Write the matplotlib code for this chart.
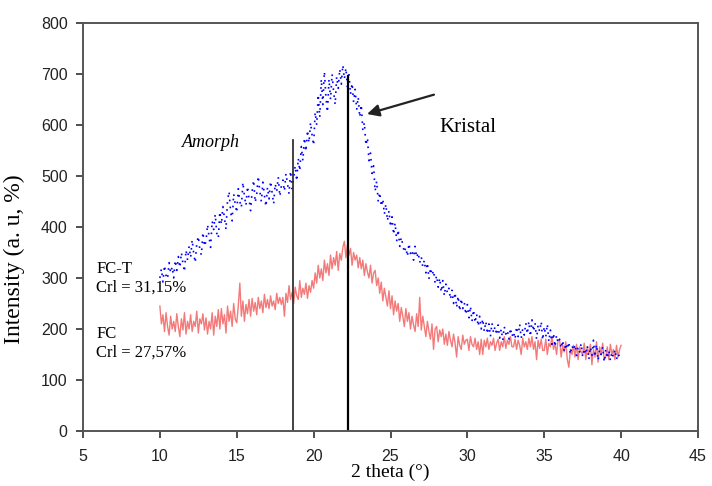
import numpy as np
import matplotlib
matplotlib.use("Agg")
import matplotlib.pyplot as plt

# 2 theta range and intensities (step 0.1)
theta_start, theta_end = 10.0, 40.0

fct = [300, 318, 292, 325, 305, 298, 330, 310, 322, 300,
       335, 315, 342, 320, 350, 328, 312, 355, 335, 362,
       340, 375, 348, 330, 368, 382, 355, 345, 390, 362,
       372, 405, 380, 360, 412, 395, 425, 388, 378, 430,
       405, 440, 418, 395, 452, 470, 430, 412, 465, 445,
       428, 475, 450, 438, 488, 460, 442, 480, 455, 432,
       470, 492, 448, 465, 500, 470, 450, 488, 462, 440,
       478, 455, 490, 468, 445, 485, 470, 498, 460, 480,
       492, 470, 505, 485, 465, 510, 475, 495, 520, 490,
       535, 510, 558, 530, 575, 548, 590, 565, 605, 580,
       560, 625, 600, 660, 615, 690, 640, 705, 655, 625,
       690, 650, 700, 665, 640, 695, 672, 710, 680, 718,
       690, 712, 675, 700, 660, 682, 645, 670, 630, 655,
       615, 640, 590, 605, 560, 575, 530, 545, 505, 520,
       470, 490, 450, 468, 440, 455, 425, 445, 412, 432,
       400, 420, 385, 408, 372, 395, 362, 380, 365, 350,
       360, 342, 368, 348, 355, 335, 362, 340, 350, 330,
       342, 322, 335, 310, 330, 298, 320, 305, 315, 290,
       305, 282, 300, 272, 295, 265, 288, 270, 280, 258,
       276, 250, 272, 242, 265, 235, 260, 240, 252, 228,
       248, 222, 245, 215, 238, 212, 230, 205, 225, 200,
       220, 195, 215, 190, 210, 185, 212, 192, 205, 188,
       208, 182, 200, 178, 205, 190, 198, 180, 202, 185,
       195, 180, 205, 185, 210, 182, 200, 188, 212, 190,
       215, 185, 218, 195, 212, 180, 208, 195, 215, 178,
       205, 185, 210, 175, 198, 170, 192, 165, 188, 172,
       180, 162, 178, 155, 172, 160, 175, 150, 168, 158,
       170, 148, 165, 155, 172, 145, 162, 150, 168, 140,
       165, 148, 178, 145, 170, 138, 160, 150, 165, 135,
       160, 142, 158, 138, 155, 145, 160, 140, 152, 145,
       150]

fc = [245, 210, 228, 195, 232, 205, 188, 225, 200, 215,
      195, 230, 205, 185, 220, 198, 232, 190, 215, 200,
      228, 195, 215, 205, 235, 192, 220, 210, 230, 198,
      222, 190, 215, 200, 232, 188, 225, 205, 238, 200,
      240, 210, 228, 192, 245, 215, 235, 205, 250, 220,
      212, 245, 290, 225, 255, 215, 248, 230, 258, 225,
      260, 235, 252, 228, 262, 240, 255, 232, 268, 242,
      258, 240, 265, 245, 255, 238, 270, 250, 262, 248,
      262, 225, 270, 252, 285, 258, 272, 250, 282, 265,
      258, 295, 262, 280, 268, 290, 260, 285, 272, 295,
      280, 310, 290, 325, 300, 318, 295, 335, 310, 328,
      305, 345, 318, 340, 325, 352, 315, 348, 335, 360,
      372, 340, 365, 345, 358, 325, 350, 335, 345, 320,
      340, 318, 335, 305, 328, 312, 300, 325, 290, 310,
      315, 285, 300, 270, 292, 255, 280, 262, 245, 275,
      240, 265, 228, 255, 235, 250, 215, 242, 225, 205,
      240, 215, 232, 200, 225, 208, 195, 230, 205, 262,
      198, 225, 205, 185, 215, 195, 180, 210, 160, 200,
      205, 175, 198, 185, 200, 170, 190, 168, 195, 178,
      165, 190, 172, 145, 185, 168, 160, 188, 170, 178,
      180, 158, 185, 170, 165, 182, 160, 175, 150, 180,
      150, 178, 165, 182, 160, 175, 168, 182, 158, 172,
      180, 158, 175, 165, 185, 162, 178, 170, 185, 165,
      165, 180, 160, 178, 168, 150, 182, 165, 175, 160,
      182, 165, 185, 160, 175, 140, 178, 162, 180, 158,
      158, 180, 150, 172, 165, 185, 160, 172, 150, 178,
      178, 145, 168, 155, 175, 140, 125, 160, 150, 168,
      145, 170, 140, 165, 155, 150, 172, 140, 165, 150,
      170, 130, 160, 145, 175, 135, 165, 150, 172, 140,
      145, 165, 140, 170, 150, 160, 140, 168, 145, 160,
      168]

amorph_pos, amorph_top = 18.65, 570
kristal_pos, kristal_top = 22.25, 697

x_fct = np.linspace(theta_start, theta_end, len(fct))
x_fc = np.linspace(theta_start, theta_end, len(fc))

serif = ['Liberation Serif', 'DejaVu Serif']
sans = ['Liberation Sans', 'DejaVu Sans']

fig = plt.figure(figsize=(7.12, 4.86), dpi=100)
ax = fig.add_axes([83 / 712, 55 / 486, 615 / 712, 408 / 486])

ax.plot(x_fc, fc, color='#f47a7a', lw=1.0)
ax.plot(x_fct, fct, color='#0000ff', lw=1.2, linestyle=(0, (1, 3.2)))

ax.plot([amorph_pos, amorph_pos], [0, amorph_top], color='#333333', lw=1.3)
ax.plot([kristal_pos, kristal_pos], [0, kristal_top], color='black', lw=1.6)

ax.annotate('', xy=(23.3, 620), xytext=(28.0, 661),
            arrowprops=dict(arrowstyle='-|>', color='#222222', lw=1.6,
                            mutation_scale=18))
ax.text(28.2, 596, 'Kristal', fontsize=15, family=serif, va='center', ha='left')
ax.text(13.3, 566, 'Amorph', fontsize=13, family=serif, style='italic',
        va='center', ha='center')

ax.text(5.85, 318, 'FC-T', fontsize=12, family=serif, va='center')
ax.text(5.85, 282, 'Crl = 31,15%', fontsize=12, family=serif, va='center')
ax.text(5.85, 190, 'FC', fontsize=12, family=serif, va='center')
ax.text(5.85, 153, 'Crl = 27,57%', fontsize=12, family=serif, va='center')

ax.set_xlim(5, 45)
ax.set_ylim(0, 800)
ax.set_xticks(range(5, 46, 5))
ax.set_yticks(range(0, 801, 100))
ax.tick_params(direction='out', length=5, width=1.3, color='#404040',
               labelsize=11.5, labelcolor='#222222')
ax.tick_params(axis='x', pad=8)
ax.tick_params(axis='y', pad=6)
for lab in ax.get_xticklabels() + ax.get_yticklabels():
    lab.set_family(sans)
for sp in ax.spines.values():
    sp.set_color('#555555')
    sp.set_linewidth(1.4)

ax.set_ylabel('Intensity (a. u, %)', fontsize=17, family=serif)
ax.yaxis.set_label_coords(-0.095, 0.42)
ax.set_xlabel('2 theta (°)', fontsize=14, family=serif)
ax.xaxis.set_label_coords(0.5, -0.08)

fig.savefig('out.png', dpi=100)
